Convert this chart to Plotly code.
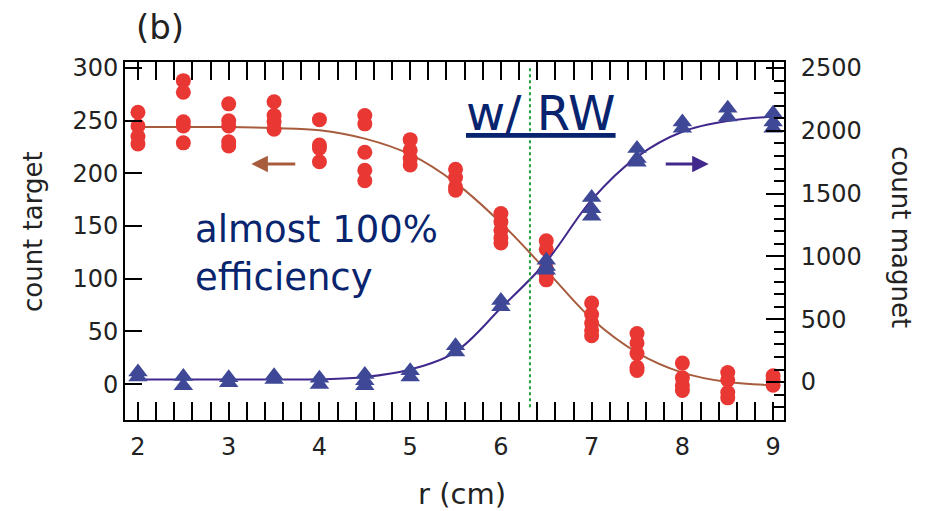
import plotly.graph_objects as go

# ---- data: target counts (left axis), red circles ----
target_x = [2]*4 + [2.5]*5 + [3]*5 + [3.5]*4 + [4]*4 + [4.5]*5 + [5]*4 + [5.5]*4 + [6]*5 + [6.5]*5 + [7]*5 + [7.5]*5 + [8]*4 + [8.5]*4 + [9]*3
target_y = [258, 245, 235, 228,
            288, 277, 249, 245, 229,
            266, 250, 245, 230, 226,
            268, 255, 249, 242,
            251, 227, 224, 211,
            255, 247, 220, 203, 193,
            232, 222, 214, 208,
            204, 196, 187, 184,
            162, 154, 146, 139, 134,
            136, 128, 110, 104, 99,
            77, 66, 58, 51, 46,
            48, 39, 29, 16, 13,
            20, 6, -1, -6,
            11, 4, -8, -13,
            8, 4, -1]

# ---- data: magnet counts (right axis), blue triangles ----
magnet_x = [2]*2 + [2.5]*2 + [3]*2 + [3.5]*2 + [4]*2 + [4.5]*3 + [5]*2 + [5.5]*2 + [6]*2 + [6.5]*3 + [7]*3 + [7.5]*3 + [8]*2 + [8.5]*2 + [9]*3
magnet_y = [80, 40,
            45, -30,
            35, -5,
            50, 20,
            30, -20,
            60, 10, -30,
            90, 40,
            290, 240,
            650, 600,
            970, 920, 890,
            1470, 1380, 1320,
            1860, 1780, 1750,
            2070, 2020,
            2180, 2110,
            2140, 2070, 2020]

# ---- fitted curves ----
fit_x = [2, 2.5, 3, 3.5, 4, 4.5, 5, 5.5, 6, 6.5, 7, 7.5, 8, 8.5, 9]
fit_target = [244, 244, 244, 243, 241, 233, 218, 191, 153, 108, 62, 30, 11, 2, -1]
fit_magnet = [20, 20, 20, 20, 22, 40, 100, 241, 589, 958, 1450, 1793, 1993, 2078, 2112]

rw_x = 6.32
rw_span = [-22, 300]

x_ticks = [2, 3, 4, 5, 6, 7, 8, 9]
left_ticks = [0, 50, 100, 150, 200, 250, 300]
right_ticks = [0, 500, 1000, 1500, 2000, 2500]

arrow_left = dict(tail=3.75, head=3.25, y=209)
arrow_right = dict(tail=7.80, head=8.29, y=209)

FONT = "DejaVu Sans, Arial, sans-serif"
RED = "rgb(233,56,52)"
BLUE = "rgb(62,72,150)"
BROWN = "rgb(168,92,62)"
PURPLE = "rgb(64,40,140)"
NAVY = "rgb(8,36,110)"
TXT = "#222222"

fig = go.Figure()
fig.add_trace(go.Scatter(x=fit_x, y=fit_target, mode="lines", line=dict(color=BROWN, width=2, shape="spline"),
                         yaxis="y", showlegend=False))
fig.add_trace(go.Scatter(x=fit_x, y=fit_magnet, mode="lines", line=dict(color=PURPLE, width=2, shape="spline"),
                         yaxis="y2", showlegend=False))
fig.add_trace(go.Scatter(x=target_x, y=target_y, mode="markers",
                         marker=dict(symbol="circle", size=15, color=RED), yaxis="y", showlegend=False))
fig.add_trace(go.Scatter(x=magnet_x, y=magnet_y, mode="markers",
                         marker=dict(symbol="triangle-up", size=17, color=BLUE), yaxis="y2", showlegend=False))

fig.add_shape(type="line", x0=rw_x, x1=rw_x, y0=rw_span[0], y1=rw_span[1], xref="x", yref="y",
              line=dict(color="rgb(30,160,60)", width=2, dash="dot"))

ann = []
ann.append(dict(text="(b)", x=0.0531, y=1.0964, xref="paper", yref="paper", showarrow=False,
                xanchor="center", yanchor="middle", font=dict(size=34, color=TXT, family=FONT)))
ann.append(dict(text="count target", x=-0.1396, y=0.525, xref="paper", yref="paper", showarrow=False,
                xanchor="center", yanchor="middle", textangle=-90, font=dict(size=26, color=TXT, family=FONT)))
ann.append(dict(text="count magnet", x=1.1776, y=0.511, xref="paper", yref="paper", showarrow=False,
                xanchor="center", yanchor="middle", textangle=90, font=dict(size=26, color=TXT, family=FONT)))
ann.append(dict(text="r (cm)", x=0.5114, y=-0.2067, xref="paper", yref="paper", showarrow=False,
                xanchor="center", yanchor="middle", font=dict(size=29, color=TXT, family=FONT)))
ann.append(dict(text="<u>w/ RW</u>", x=0.631, y=0.858, xref="paper", yref="paper", showarrow=False,
                xanchor="center", yanchor="middle", font=dict(size=48, color=NAVY, family=FONT)))
ann.append(dict(text="almost 100%<br>efficiency", x=0.103, y=0.466, xref="paper", yref="paper",
                xanchor="left", yanchor="middle", align="left", showarrow=False,
                font=dict(size=37, color=NAVY, family=FONT)))
ann.append(dict(x=arrow_left["head"], y=arrow_left["y"], ax=arrow_left["tail"], ay=arrow_left["y"],
                xref="x", yref="y", axref="x", ayref="y", text="", showarrow=True,
                arrowhead=2, arrowsize=1.1, arrowwidth=3, arrowcolor=BROWN))
ann.append(dict(x=arrow_right["head"], y=arrow_right["y"], ax=arrow_right["tail"], ay=arrow_right["y"],
                xref="x", yref="y", axref="x", ayref="y", text="", showarrow=True,
                arrowhead=2, arrowsize=1.1, arrowwidth=3, arrowcolor=PURPLE))

fig.update_layout(
    width=917, height=503,
    margin=dict(l=117, r=141, t=54, b=91),
    paper_bgcolor="white", plot_bgcolor="white",
    font=dict(family=FONT, color=TXT),
    annotations=ann,
    xaxis=dict(range=[1.857, 9.12], tickvals=x_ticks, ticktext=[str(v) for v in x_ticks],
               ticks="inside", ticklen=18, tickwidth=2, tickcolor="black", ticklabelstandoff=4,
               minor=dict(dtick=0.2, tick0=2, ticks="inside", ticklen=9, tickwidth=2, tickcolor="black"),
               showline=True, linecolor="black", linewidth=2, mirror="allticks",
               showgrid=False, zeroline=False, tickfont=dict(size=24, color=TXT)),
    yaxis=dict(range=[-34, 305.7], tickvals=left_ticks, ticktext=[str(v) for v in left_ticks],
               ticks="inside", ticklen=17, tickwidth=2, tickcolor="black",
               showline=True, linecolor="black", linewidth=2,
               showgrid=False, zeroline=False, tickfont=dict(size=24, color=TXT)),
    yaxis2=dict(range=[-302, 2548], overlaying="y", side="right",
                tickvals=right_ticks, ticktext=[str(v) for v in right_ticks],
                ticks="inside", ticklen=18, tickwidth=2, tickcolor="black", ticklabelstandoff=10,
                minor=dict(dtick=100, tick0=0, ticks="inside", ticklen=10, tickwidth=2, tickcolor="black"),
                showline=True, linecolor="black", linewidth=2,
                showgrid=False, zeroline=False, tickfont=dict(size=24, color=TXT)),
)

fig.write_html("out.html")
